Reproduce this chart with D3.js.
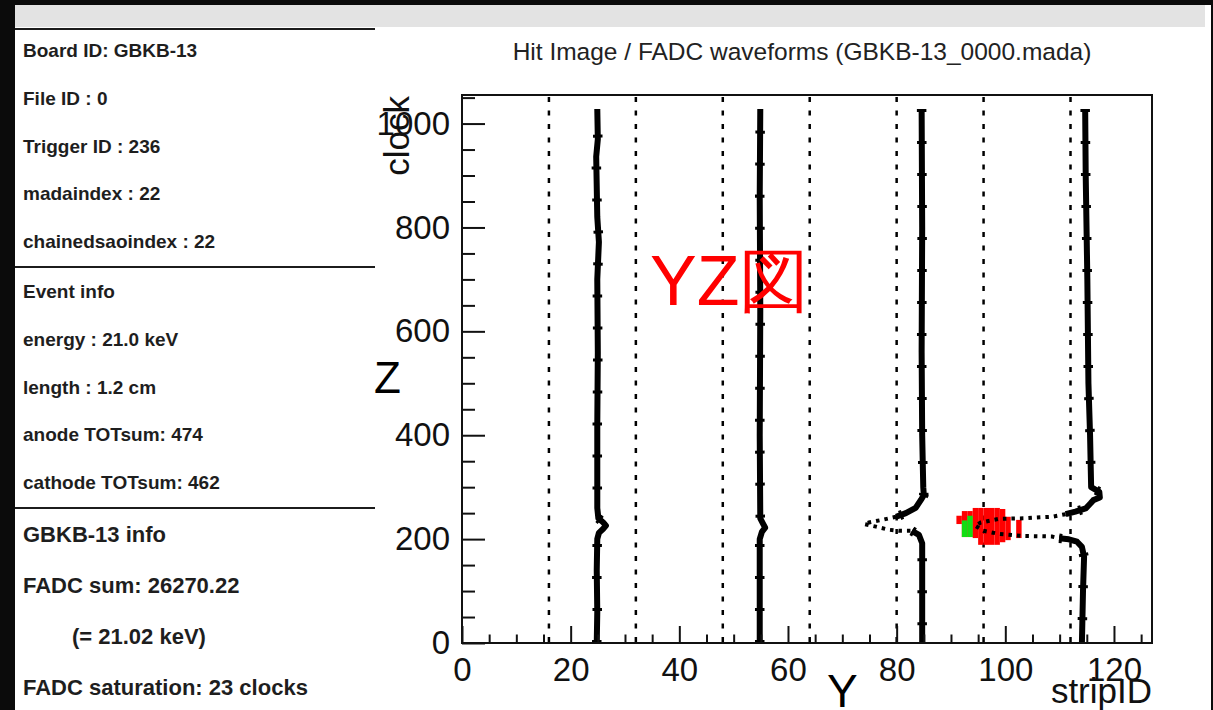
<!DOCTYPE html>
<html>
<head>
	<meta charset="UTF-8" />
	<title>Hit Image / FADC waveforms</title>
	<script src="https://d3js.org/d3.v7.min.js"></script>
	<style>
		body { margin: 0; background: #0b0b0b; }
		text { font-family: "Liberation Sans", Arial, sans-serif; }
	</style>
</head>
<body>
	<svg id="chart" style="width:1213px; height:710px; display:block"></svg>

	<script type="text/javascript">

	//========================================================================
	// data
	//========================================================================
	var titleText = "Hit Image / FADC waveforms (GBKB-13_0000.mada)"
	var xTitle = "stripID", yTitle = "clock"

	var boardLines = ["Board ID: GBKB-13", "File ID : 0", "Trigger ID : 236", "madaindex : 22", "chainedsaoindex : 22"]
	var eventLines = ["Event info", "energy : 21.0 keV", "length : 1.2 cm", "anode TOTsum: 474", "cathode TOTsum: 462"]
	var fadcLines  = ["GBKB-13 info", "FADC sum: 26270.22", "(= 21.02 keV)", "FADC saturation: 23 clocks"]

	var xMajor = [0, 20, 40, 60, 80, 100, 120]
	var yMajor = [0, 200, 400, 600, 800, 1000]

	// strip boundaries (dashed)
	var boundaries = [16, 32, 48, 64, 80, 96, 112]

	// hit image cells : strip, clock low, clock high
	var redStrips = [91, 92, 93, 94, 95, 96, 97, 98, 99, 100, 102]
	var redLow    = [229, 204, 204, 202, 189, 189, 189, 189, 194, 198, 202]
	var redHigh   = [245, 254, 254, 260, 260, 260, 260, 260, 258, 243, 237]
	var greenStrips = [92, 93]
	var greenLow    = [204, 204]
	var greenHigh   = [236, 245]

	// FADC waveforms as [clock, strip] ; solid parts and fast (dotted) parts
	var wf1 = [[0,24.8],[60,24.9],[140,24.8],[200,24.9],[212,25.2],[220,26.0],[226,26.5],[232,26.0],[240,25.1],[260,24.9],[420,24.9],[560,25.0],[700,24.9],[772,25.2],[820,24.9],[936,24.7],[970,25.0],[1028,24.9]]
	var wf2 = [[0,54.8],[120,54.8],[200,54.8],[214,55.2],[222,55.8],[230,55.4],[240,54.9],[400,54.8],[640,54.9],[860,54.8],[1028,54.9]]
	var wf3Top = [[1028,84.6],[800,84.7],[560,84.6],[400,84.7],[300,84.9],[285,85.0],[276,84.5],[260,83.5],[250,81.7],[243,79.9]]
	var wf3Fast = [[243,79.9],[237,77.3],[232,74.9],[229,74.0],[224,76.2],[218,78.6],[216,80.4],[216,82.8]]
	var wf3Bottom = [[216,82.8],[208,84.1],[192,84.7],[100,84.7],[0,84.7]]
	var wf4Top = [[1028,114.7],[900,114.8],[700,115.1],[500,115.3],[400,115.6],[300,115.8],[291,117.3],[280,117.4],[275,116.2],[269,115.7],[259,114.8],[253,112.9],[248,111.1]]
	var wf4Fast = [[248,111.1],[243,108.6],[242,106.7],[241,104.9],[240,103.4],[239,98.8],[232,95.5],[226,94.4],[216,96.0],[210,98.8],[206,103.4],[205.5,106.7],[205,108.6],[201.6,109.9]]
	var wf4Bottom = [[201.6,109.9],[199.6,111.7],[195,113.2],[185,114.1],[166,114.5],[100,114.3],[0,114.1]]

	var solidTraces = [wf1, wf2, wf3Top, wf3Bottom, wf4Top, wf4Bottom]
	var fastTraces = [wf3Fast, wf4Fast]

	//========================================================================
	// page
	//========================================================================
	var svg = d3.select("#chart")

	// screenshot surroundings
	svg.append("rect").attr("x", 0).attr("y", 0).attr("width", 1213).attr("height", 710).attr("fill", "#0b0b0b")
	svg.append("rect").attr("x", 15).attr("y", 5).attr("width", 1196).attr("height", 705).attr("fill", "#ffffff")
	svg.append("rect").attr("x", 15).attr("y", 5).attr("width", 1190).attr("height", 22).attr("fill", "#e3e3e3")

	// left info panel
	var panel = svg.append("g")
	;[29, 267, 508].forEach(y => {
		panel.append("line").attr("x1", 15).attr("x2", 375).attr("y1", y).attr("y2", y)
			.attr("stroke", "#1c1c1c").attr("stroke-width", 2)
	})

	function infoBlock(lines, y0, step, size, indentIdx){
		panel.selectAll(null)
			.data(lines)
			.enter()
			.append("text")
			.attr("x", (d,i) => i === indentIdx ? 72 : 23)
			.attr("y", (d,i) => y0 + i*step)
			.attr("font-size", size)
			.attr("font-weight", "bold")
			.attr("fill", "#1e1e1e")
			.text(d => d)
	}
	infoBlock(boardLines, 57, 47.75, 19, -1)
	infoBlock(eventLines, 298, 47.75, 19, -1)
	infoBlock(fadcLines, 542, 51, 22, 2)

	// title
	svg.append("text")
		.attr("x", 802).attr("y", 60)
		.attr("text-anchor", "middle")
		.attr("font-size", 24.5)
		.attr("fill", "#222")
		.text(titleText)

	//========================================================================
	// plot
	//========================================================================
	var xScale = d3.scaleLinear().domain([0, 127]).range([462, 1152])
	var yScale = d3.scaleLinear().domain([0, 1055]).range([643, 95])

	var plot = svg.append("g")

	// dashed strip boundaries
	plot.selectAll(".bound")
		.data(boundaries)
		.enter()
		.append("line")
		.attr("x1", d => xScale(d)).attr("x2", d => xScale(d))
		.attr("y1", 97).attr("y2", 643)
		.attr("stroke", "#000")
		.attr("stroke-width", 2.5)
		.attr("stroke-dasharray", "5,8.5")

	// hit image
	function cells(strips, lo, hi, colour){
		plot.selectAll(null)
			.data(strips)
			.enter()
			.append("rect")
			.attr("x", d => xScale(d))
			.attr("width", d => xScale(d+1) - xScale(d))
			.attr("y", (d,i) => yScale(hi[i]))
			.attr("height", (d,i) => yScale(lo[i]) - yScale(hi[i]))
			.attr("fill", colour)
	}
	cells(redStrips, redLow, redHigh, "#ff0000")
	cells(greenStrips, greenLow, greenHigh, "#12dd12")

	// waveforms
	var line = d3.line().x(d => xScale(d[1])).y(d => yScale(d[0]))

	plot.selectAll(".wf")
		.data(solidTraces)
		.enter()
		.append("path")
		.attr("d", line)
		.attr("fill", "none")
		.attr("stroke", "#000")
		.attr("stroke-width", 6)
		.attr("stroke-linejoin", "round")

	// ragged marker edges
	plot.selectAll(".wfnub")
		.data(solidTraces)
		.enter()
		.append("path")
		.attr("d", line)
		.attr("fill", "none")
		.attr("stroke", "#000")
		.attr("stroke-width", 9.5)
		.attr("stroke-dasharray", "3,29")

	plot.selectAll(".wffast")
		.data(fastTraces)
		.enter()
		.append("path")
		.attr("d", line)
		.attr("fill", "none")
		.attr("stroke", "#000")
		.attr("stroke-width", 4)
		.attr("stroke-dasharray", "3.5,5")

	// axes (ROOT style, ticks inside)
	var axisFont = 33

	var yAxis = plot.append("g").attr("transform", "translate(462,0)")
		.call(d3.axisLeft(yScale).tickValues(yMajor).tickSize(-23).tickPadding(12).tickFormat(d3.format("d")))
	var yMinor = plot.append("g").attr("transform", "translate(462,0)")
		.call(d3.axisLeft(yScale).tickValues(d3.range(0, 1051, 50).filter(v => v % 200)).tickSize(-13).tickFormat(""))

	var xAxis = plot.append("g").attr("transform", "translate(0,643)")
		.call(d3.axisBottom(xScale).tickValues(xMajor).tickSize(-17).tickPadding(15).tickFormat(d3.format("d")))
	var xMinor = plot.append("g").attr("transform", "translate(0,643)")
		.call(d3.axisBottom(xScale).tickValues(d3.range(0, 126, 5).filter(v => v % 20)).tickSize(-8.5).tickFormat(""))

	;[yAxis, yMinor, xAxis, xMinor].forEach(a => {
		a.select(".domain").remove()
		a.selectAll(".tick line").attr("stroke", "#111").attr("stroke-width", 2)
		a.selectAll(".tick text")
			.attr("font-family", "Liberation Sans, Arial, sans-serif")
			.attr("font-size", axisFont)
			.attr("fill", "#111")
	})

	// frame
	plot.append("rect")
		.attr("x", 462).attr("y", 95)
		.attr("width", 1152 - 462).attr("height", 643 - 95)
		.attr("fill", "none")
		.attr("stroke", "#111")
		.attr("stroke-width", 2)

	// axis titles
	plot.append("text")
		.attr("transform", "translate(409,96) rotate(-90)")
		.attr("text-anchor", "end")
		.attr("font-size", 35)
		.attr("fill", "#111")
		.text(yTitle)
	plot.append("text")
		.attr("x", 1152).attr("y", 703)
		.attr("text-anchor", "end")
		.attr("font-size", 35)
		.attr("fill", "#111")
		.text(xTitle)

	// annotations added on top of the screenshot
	svg.append("text")
		.attr("x", 650).attr("y", 305)
		.attr("font-family", "Liberation Sans, Noto Sans CJK JP, sans-serif")
		.attr("font-size", 70)
		.attr("fill", "#ff0000")
		.text("YZ図")
	svg.append("text")
		.attr("x", 374).attr("y", 393)
		.attr("font-size", 44)
		.attr("fill", "#000")
		.text("Z")
	svg.append("text")
		.attr("x", 827).attr("y", 707)
		.attr("font-size", 46)
		.attr("fill", "#000")
		.text("Y")

	</script>

</body>
</html>
